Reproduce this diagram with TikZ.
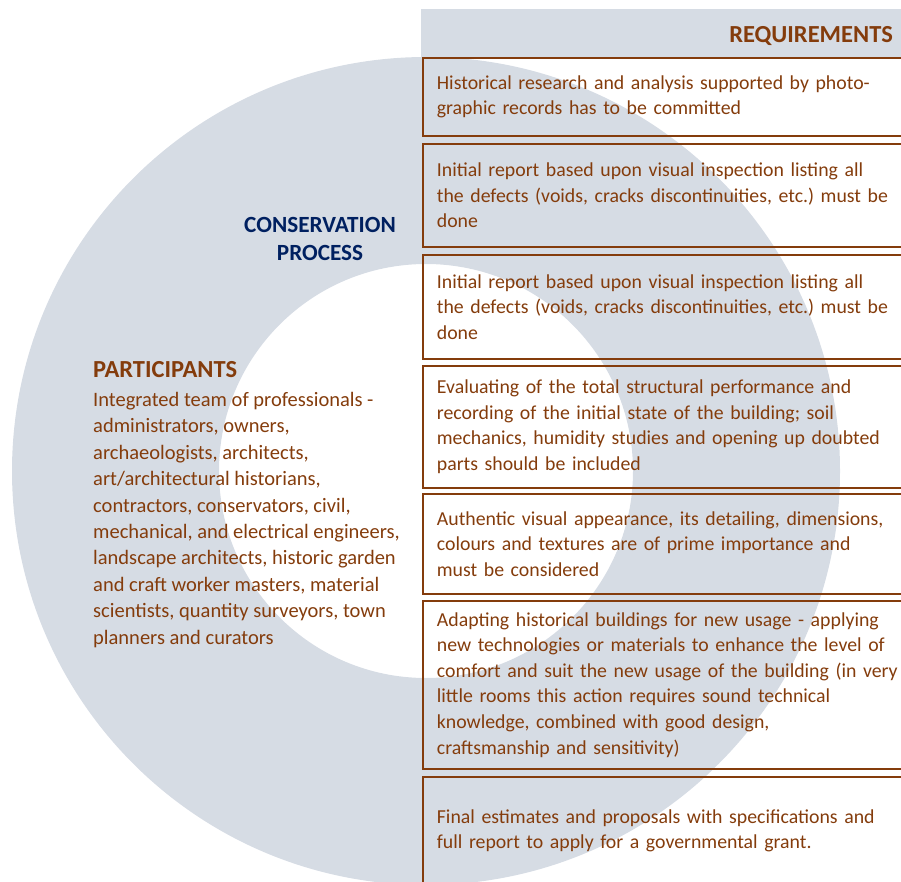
\documentclass[tikz,border=0pt]{standalone}
\usepackage{fontspec}
\setmainfont{Carlito}
\definecolor{ringgray}{HTML}{D6DCE4}
\definecolor{reqbrown}{HTML}{843C0C}
\definecolor{procblue}{HTML}{002060}

\begin{document}
\begin{tikzpicture}[x=1pt,y=-1pt,
	reqbox/.style={draw=reqbrown,line width=1.8pt,anchor=north west,text width=510pt,inner xsep=14pt,inner ysep=0pt,align=left,text=reqbrown,font=\fontsize{19.8}{25.6}\selectfont\frenchspacing},
	headbrown/.style={text=reqbrown,font=\fontsize{24.5}{28}\selectfont\bfseries,inner sep=0pt},
	headblue/.style={text=procblue,font=\fontsize{23.2}{28}\selectfont\bfseries,align=center,inner sep=0pt}]
	\useasboundingbox (0,0) rectangle (901,882);
	\clip (0,0) rectangle (901,882);
	\coordinate (O) at (426,471);
	\fill[ringgray] (421,9) rectangle (960,57);
	\fill[ringgray,even odd rule] (O) circle (414pt) (O) circle (207pt);

	\node[reqbox,minimum height=78pt] (r1) at (422,57) {Historical research and analysis supported by photo-\\graphic records has to be committed};
	\node[reqbox,minimum height=103pt] (r2) at (422,143) {Initial report based upon visual inspection listing all\\the defects (voids, cracks discontinuities, etc.) must be\\done};
	\node[reqbox,minimum height=104pt] (r3) at (422,254) {Initial report based upon visual inspection listing all\\the defects (voids, cracks discontinuities, etc.) must be\\done};
	\node[reqbox,minimum height=122pt] (r4) at (422,365) {Evaluating of the total structural performance and\\recording of the initial state of the building; soil\\mechanics, humidity studies and opening up doubted\\parts should be included};
	\node[reqbox,minimum height=100pt] (r5) at (422,493) {Authentic visual appearance, its detailing, dimensions,\\colours and textures are of prime importance and\\must be considered};
	\node[reqbox,minimum height=168pt] (r6) at (422,600) {Adapting historical buildings for new usage - applying\\new technologies or materials to enhance the level of\\comfort and suit the new usage of the building (in very\\little rooms this action requires sound technical\\knowledge, combined with good design,\\craftsmanship and sensitivity)};
	\node[reqbox,minimum height=108pt] (r7) at (422,776) {Final estimates and proposals with specifications and\\full report to apply for a governmental grant.};

	\node[headbrown,anchor=east] (req) at (893,36) {REQUIREMENTS};
	\node[headblue] (proc) at (320,239) {CONSERVATION\\PROCESS};
	\node[headbrown,anchor=west] (part) at (93,370) {PARTICIPANTS};
	\node[anchor=north west,inner sep=0pt,text=reqbrown,align=left,font=\fontsize{20.5}{26.4}\selectfont] (team) at (93,392) {Integrated team of professionals -\\administrators, owners,\\archaeologists, architects,\\art/architectural historians,\\contractors, conservators, civil,\\mechanical, and electrical engineers,\\landscape architects, historic garden\\and craft worker masters, material\\scientists, quantity surveyors, town\\planners and curators};
\end{tikzpicture}
\end{document}
